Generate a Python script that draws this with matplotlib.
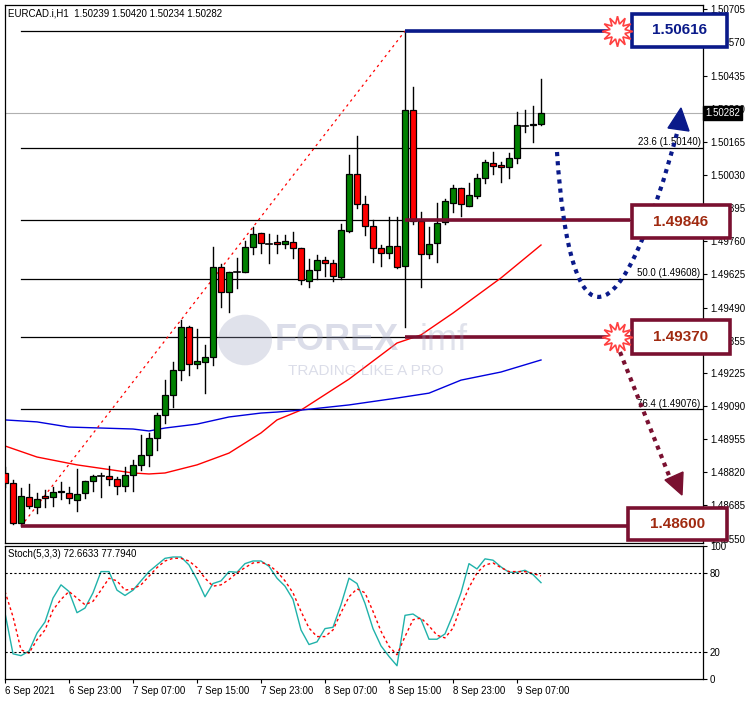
import matplotlib
matplotlib.use("Agg")
import matplotlib.pyplot as plt
from matplotlib.patches import Rectangle, Polygon, PathPatch, Circle
from matplotlib.path import Path

plt.rcParams['font.family'] = ['Liberation Sans', 'DejaVu Sans']

# ---------------- data ----------------
opens = [1.48817,1.48776,1.48613,1.48719,1.48679,1.48723,1.48719,1.48739,1.48735,1.48707,
         1.48735,1.48784,1.48805,1.48805,1.48792,1.48764,1.48809,1.48850,1.48891,1.48960,
         1.49053,1.49134,1.49236,1.49411,1.49261,1.49269,1.49289,1.49656,1.49554,1.49639,
         1.49635,1.49737,1.49794,1.49753,1.49757,1.49749,1.49757,1.49733,1.49599,1.49643,
         1.49684,1.49672,1.49615,1.49802,1.50034,1.49912,1.49823,1.49733,1.49712,1.49741,
         1.49660,1.50294,1.49843,1.49708,1.49753,1.49838,1.49916,1.49977,1.49904,1.49944,
         1.50018,1.50079,1.50071,1.50063,1.50099,1.50233,1.50233,1.50239]
highs = [1.48841,1.48788,1.48756,1.48772,1.48735,1.48748,1.48760,1.48780,1.48760,1.48833,
         1.48784,1.48809,1.48817,1.48846,1.48801,1.48841,1.48870,1.48972,1.48980,1.49061,
         1.49195,1.49269,1.49440,1.49415,1.49403,1.49338,1.49737,1.49668,1.49635,1.49692,
         1.49761,1.49818,1.49794,1.49789,1.49785,1.49786,1.49798,1.49733,1.49688,1.49704,
         1.49696,1.49684,1.49830,1.50111,1.50189,1.49944,1.49847,1.49745,1.49859,1.49859,
         1.50616,1.50388,1.49879,1.49818,1.49916,1.49932,1.49989,1.49977,1.49997,1.50034,
         1.50091,1.50123,1.50083,1.50119,1.50286,1.50294,1.50311,1.50420]
lows = [1.48760,1.48610,1.48600,1.48674,1.48654,1.48679,1.48683,1.48711,1.48695,1.48662,
        1.48715,1.48744,1.48719,1.48768,1.48731,1.48744,1.48744,1.48829,1.48846,1.48911,
        1.49020,1.49085,1.49195,1.49216,1.49244,1.49142,1.49257,1.49493,1.49472,1.49570,
        1.49635,1.49708,1.49712,1.49672,1.49712,1.49733,1.49692,1.49587,1.49575,1.49607,
        1.49619,1.49599,1.49607,1.49798,1.49895,1.49786,1.49676,1.49660,1.49692,1.49651,
        1.49411,1.49830,1.49575,1.49692,1.49676,1.49830,1.49879,1.49863,1.49904,1.49936,
        1.49997,1.50034,1.50001,1.50018,1.50079,1.50205,1.50164,1.50234]
closes = [1.48776,1.48613,1.48723,1.48683,1.48711,1.48715,1.48739,1.48743,1.48715,1.48731,
          1.48784,1.48805,1.48803,1.48792,1.48764,1.48809,1.48850,1.48891,1.48960,1.49053,
          1.49134,1.49236,1.49411,1.49261,1.49273,1.49289,1.49656,1.49554,1.49635,1.49637,
          1.49737,1.49789,1.49753,1.49751,1.49749,1.49761,1.49733,1.49603,1.49643,1.49684,
          1.49672,1.49619,1.49806,1.50034,1.49912,1.49823,1.49733,1.49712,1.49741,1.49656,
          1.50294,1.49843,1.49708,1.49749,1.49834,1.49924,1.49977,1.49912,1.49949,1.50018,
          1.50083,1.50066,1.50063,1.50099,1.50233,1.50231,1.50237,1.50282]

ma_red_idx = [0,4,9,16,18,20,24,28,32,34,37,43,49,52,56,62,67]
ma_red = [1.48927,1.48882,1.48850,1.48817,1.48813,1.48817,1.48850,1.48898,1.48980,1.49033,
          1.49073,1.49199,1.49346,1.49379,1.49468,1.49611,1.49745]
ma_blue_idx = [0,4,8,12,16,18,20,24,28,32,34,37,43,49,53,57,62,67]
ma_blue = [1.49033,1.49025,1.49004,1.49000,1.48996,1.48988,1.49000,1.49016,1.49045,1.49061,
           1.49065,1.49073,1.49094,1.49122,1.49142,1.49195,1.49228,1.49277]

stoch_k = [49.8,19,17.6,21,34.6,43,61,71,66,50,53.5,65,81,81,67,63,67,74,81,86,
           91,92,92,86,75,62,72,74,81,80.5,87,89,89,85,76,70,60,37,26,28,
           38,39,56,76,72,57,38,25,17,10,48,49,45,30,30,34,48.5,65,87,83,
           90.6,89.6,84.5,80.5,80.5,82,78.7,72.66]
stoch_d = [66,47,22,19.5,29.6,37,52,60,66,61,56,58.6,67,76,74,67,68,71,77.5,84,
           89,91,91,89,84,76,70,71,75,80,84,87.5,88,86,81,74,65,51,38.4,32,
           32,37,50,62,68,65,51,36,24.6,18.3,32,44.7,46,40,33,31,38.4,55,69,80,
           86,87.5,84,81,81,81,79.5,77.79]

time_labels = ["6 Sep 2021","6 Sep 23:00","7 Sep 07:00","7 Sep 15:00","7 Sep 23:00",
               "8 Sep 07:00","8 Sep 15:00","8 Sep 23:00","9 Sep 07:00"]
label_idx = [0,8,16,24,32,40,48,56,64]

fib_low, fib_high = 1.48600, 1.50616
fib_low_i, fib_high_i = 2, 50
fib_levels = [23.6, 38.2, 50.0, 61.8, 76.4]
key_levels = [1.50616, 1.49846, 1.49370, 1.48600]
key_colors = ['#0a1a8a', '#7a1030', '#7a1030', '#7a1030']
key_text_colors = ['#0a1a8a', '#a02a10', '#a02a10', '#a02a10']
price_ticks = [1.50705,1.50570,1.50435,1.50300,1.50165,1.50030,1.49895,1.49760,1.49625,
               1.49490,1.49355,1.49225,1.49090,1.48955,1.48820,1.48685,1.48550]

# ---------------- layout ----------------
W, H = 749, 702
fig = plt.figure(figsize=(W/100, H/100), dpi=100)
def fx(x): return x / W
def fy(y): return 1 - y / H

ax = fig.add_axes([fx(5), fy(543), fx(703)-fx(5), fy(5)-fy(543)])
ax2 = fig.add_axes([fx(5), fy(679), fx(703)-fx(5), fy(546)-fy(679)])
XMAX = 87.25
ax.set_xlim(0, XMAX)
ax.set_ylim(1.48532, 1.50722)
ax2.set_xlim(0, XMAX)
ax2.set_ylim(0.5, 100.3)

# candles
for i in range(len(opens)):
    o, h, l, c = opens[i], highs[i], lows[i], closes[i]
    ax.plot([i, i], [l, h], color='black', lw=1, zorder=3)
    if abs(c - o) < 0.00004:
        ax.plot([i-0.35, i+0.35], [c, c], color='black', lw=1.2, zorder=4)
    else:
        col = '#008000' if c > o else '#ff0000'
        ax.add_patch(Rectangle((i-0.32, min(o, c)), 0.64, abs(c-o), facecolor=col,
                               edgecolor='black', lw=0.9, zorder=4))

ax.plot(ma_red_idx, ma_red, color='#ff0000', lw=1, zorder=2)
ax.plot(ma_blue_idx, ma_blue, color='#0000dd', lw=1, zorder=2)

# fib
ax.plot([fib_low_i, fib_high_i], [fib_low, fib_high], color='#ff0000', lw=0.9,
        ls=(0, (2, 3)), zorder=2)
rng = fib_high - fib_low
ax.plot([fib_low_i, XMAX], [fib_high, fib_high], color='black', lw=0.9, zorder=1)
for lv in fib_levels:
    p = fib_high - rng * lv / 100
    ax.plot([fib_low_i, XMAX], [p, p], color='black', lw=0.9, zorder=1)
    if lv in (23.6, 50.0, 76.4):
        ax.text(XMAX-0.3, p+0.00003, f"{lv:.1f} ({p:.5f})", fontsize=7, ha='right',
                va='bottom', zorder=5)
ax.axhline(closes[-1], color='#b0b0b0', lw=0.8, zorder=0)

ends = [75.6, 78.1, 78.1, 78.1]
starts = [fib_high_i, fib_high_i, fib_high_i, fib_low_i]
for lvl, col, s, e in zip(key_levels, key_colors, starts, ends):
    ax.plot([s, e], [lvl, lvl], color=col, lw=2.6, zorder=5, solid_capstyle='butt')

# ticks
ax.yaxis.tick_right()
ax.set_yticks(price_ticks)
ax.set_yticklabels([f"{t:.5f}" for t in price_ticks], fontsize=7)
ax.tick_params(axis='y', length=3, pad=2)
ax.set_xticks([])
ax2.yaxis.tick_right()
ax2.set_yticks([100, 80, 20, 0])
ax2.set_yticklabels(['100', '80', '20', '0'], fontsize=7)
ax2.tick_params(axis='y', length=3, pad=2)
ax2.set_xticks(label_idx)
ax2.set_xticklabels(time_labels, fontsize=7, ha='left')
ax2.tick_params(axis='x', length=3, pad=2)
for a in (ax, ax2):
    for s in a.spines.values():
        s.set_linewidth(0.9)

# current price tag drawn above the tick labels
ytag = ax.transData.transform((0, closes[-1]))[1] / fig.dpi / (H/100)
fig.text(fx(705), ytag, f"{closes[-1]:.5f}", fontsize=7, color='white', va='center',
         ha='left', zorder=30,
         bbox=dict(boxstyle='square,pad=0.2', fc='black', ec='black'))

# stochastic
xs = list(range(len(stoch_k)))
ax2.plot(xs, stoch_k, color='#20b2aa', lw=1)
ax2.plot(xs, stoch_d, color='#ff0000', lw=1, ls=(0, (2, 2)))
ax2.axhline(80, color='black', lw=0.8, ls=(0, (2, 2)))
ax2.axhline(20, color='black', lw=0.8, ls=(0, (2, 2)))

fig.text(fx(8), fy(13), "EURCAD.i,H1  1.50239 1.50420 1.50234 1.50282", fontsize=7, va='center')
fig.text(fx(8), fy(554), "Stoch(5,3,3) 72.6633 77.7940", fontsize=7, va='center')

# watermark
fig.add_artist(Circle((fx(245), fy(340)), 27/W, transform=fig.transFigure,
                      facecolor='#9aa0c0', alpha=0.3, edgecolor='none'))
fig.text(fx(275), fy(340), "FOREX", fontsize=26, fontweight='bold', color='#9aa0c0',
         alpha=0.35, va='center')
fig.text(fx(420), fy(340), "imf", fontsize=26, color='#9aa0c0', alpha=0.3, va='center')
fig.text(fx(288), fy(371), "TRADING LIKE A PRO", fontsize=11, color='#9aa0c0',
         alpha=0.35, va='center')

# level boxes
boxes = [(632, 14, 95, 33), (632, 205, 98, 33), (632, 320, 98, 34), (628, 508, 99, 32)]
for (bx, by, bw, bh), lvl, col, tcol in zip(boxes, key_levels, key_colors, key_text_colors):
    fig.add_artist(Rectangle((fx(bx), fy(by+bh)), bw/W, bh/H, transform=fig.transFigure,
                             facecolor='white', edgecolor=col, lw=2.6, zorder=20))
    fig.text(fx(bx+bw/2), fy(by+bh/2), f"{lvl:.5f}", fontsize=11, fontweight='bold',
             color=tcol, ha='center', va='center', zorder=21)

for sy in (31, 337):
    fig.add_artist(plt.Line2D([fx(617)], [fy(sy)], transform=fig.transFigure,
                              marker=(12, 1, 0), markersize=22, markerfacecolor='white',
                              markeredgecolor='#ff4040', markeredgewidth=1.2, zorder=22))

verts = [(557, 152), (570, 350), (620, 350), (680, 122)]
path = Path([(fx(x), fy(y)) for x, y in verts], [Path.MOVETO, Path.CURVE4, Path.CURVE4, Path.CURVE4])
fig.add_artist(PathPatch(path, transform=fig.transFigure, fill=False, edgecolor='#0a1a8a',
                         lw=3, ls=(0, (1, 1.2)), zorder=15))
fig.add_artist(Polygon([(fx(681), fy(108)), (fx(668), fy(128)), (fx(689), fy(131))],
                       transform=fig.transFigure, color='#0a1a8a', zorder=15))
fig.add_artist(plt.Line2D([fx(620), fx(670)], [fy(352), fy(478)], transform=fig.transFigure,
                          color='#7a1030', lw=3, ls=(0, (1, 1.2)), zorder=15))
fig.add_artist(Polygon([(fx(682), fy(495)), (fx(665), fy(480)), (fx(683), fy(472))],
                       transform=fig.transFigure, color='#7a1030', zorder=15))

fig.savefig("out.png", dpi=100)
